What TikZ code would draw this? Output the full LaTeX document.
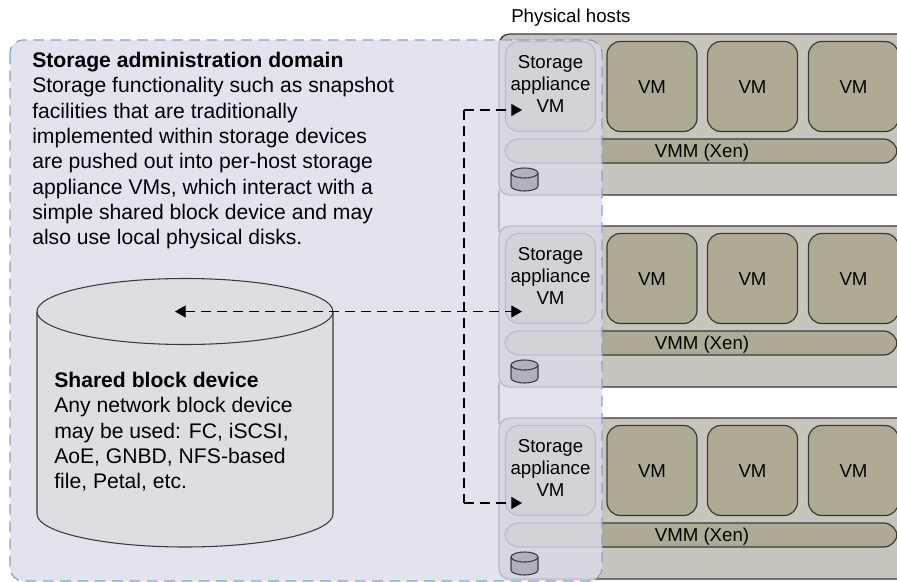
\documentclass[tikz,border=0pt]{standalone}
\usepackage{fontspec}
\setmainfont{Liberation Sans}
\usetikzlibrary{arrows.meta}
\definecolor{hostfill}{HTML}{C9C5BE}
\definecolor{vmfill}{HTML}{AEAA94}
\definecolor{domainfill}{HTML}{DCDCEA}
\definecolor{domainline}{HTML}{8C9CD0}
\definecolor{diskfill}{HTML}{B0B0BE}
\definecolor{bigdiskfill}{HTML}{DEDEE2}
\definecolor{edge}{HTML}{3A3A3A}
\tikzstyle{vm} = [rectangle, draw=edge, fill=vmfill, line width=0.9pt, rounded corners=10pt,
                 inner sep=0pt]
\tikzstyle{label} = [inner sep=0pt, align=center, font=\fontsize{14pt}{16.5pt}\selectfont]
\tikzstyle{blurb} = [anchor=north west, align=left, inner sep=0pt,
                 font=\fontsize{15.85pt}{19pt}\selectfont]
\tikzstyle{link} = [draw=black, line width=0.85pt, dash pattern=on 7.5pt off 4.5pt]
\tikzstyle{tip} = [{Triangle[length=8pt,width=9pt]}-{Triangle[length=8pt,width=9pt]}]
% centre x, top y, bottom y, x radius, y radius
\newcommand{\drum}[6]{
	\draw [edge, fill=#6, line width=0.8pt] ({#1-#4},#2) -- ({#1-#4},#3)
		arc [start angle=180, end angle=0, x radius=#4, y radius=#5] -- ({#1+#4},#2);
	\draw [edge, fill=#6, line width=0.8pt] (#1,#2) ellipse [x radius=#4, y radius=#5];
}
\begin{document}
\begin{tikzpicture}[x=0.75pt,y=-0.75pt]
\useasboundingbox (0,0) rectangle (897,582);

\node [label, anchor=west] (hosts) at (511,18) {Physical hosts};

%hosts
\draw [edge, line width=1pt] (499,190) -- (499,232) (499,382) -- (499,424);
\foreach \n/\y in {1/0, 2/192, 3/384} {
	\begin{scope}[yshift=-0.75*\y pt]
	\fill [hostfill, rounded corners=8pt] (499,34) rectangle (915,195);
	\draw [edge, line width=1pt, rounded corners=8pt] (915,34) -- (499,34) -- (499,195) -- (915,195);
	\node [vm, minimum width=67.5pt, minimum height=67.5pt] (app\n) at (550.5,86.5) {};
	\node [vm, minimum width=67.5pt, minimum height=67.5pt] (vma\n) at (652,86.5) {};
	\node [vm, minimum width=67.5pt, minimum height=67.5pt] (vmb\n) at (752.5,86.5) {};
	\node [vm, minimum width=67.5pt, minimum height=67.5pt] (vmc\n) at (853.5,86.5) {};
	\node [vm, minimum width=294pt, minimum height=18pt] (vmm\n) at (701,151) {};
	\end{scope}
}

%domain lies over the hosts
\fill [domainfill, fill opacity=0.8, rounded corners=10pt] (10,40) rectangle (602,581);
\draw [domainline, line width=0.9pt, dash pattern=on 8pt off 5pt, rounded corners=10pt] (10,40) rectangle (602,581);

%labels
\foreach \n/\y in {1/0, 2/192, 3/384} {
	\begin{scope}[yshift=-0.75*\y pt]
	\node [label] (txt\n) at (550.5,84) {Storage\\appliance\\VM};
	\node [label] (lba\n) at (652,87.5) {VM};
	\node [label] (lbb\n) at (752.5,87.5) {VM};
	\node [label] (lbc\n) at (853.5,87.5) {VM};
	\node [label] (lbm\n) at (702,152.5) {VMM (Xen)};
	\drum{524.5}{173}{186}{13.5}{5}{diskfill}
	\end{scope}
}

\node [blurb] (domain) at (32,52) {\textbf{Storage administration domain}\\
Storage functionality such as snapshot\\
facilities that are traditionally\\
implemented within storage devices\\
are pushed out into per-host storage\\
appliance VMs, which interact with a\\
simple shared block device and may\\
also use local physical disks.};

\drum{185}{311.5}{514}{148}{33}{bigdiskfill}
\node [blurb] (sharedtxt) at (54,372) {\textbf{Shared block device}\\
Any network block device\\
may be used: FC, iSCSI,\\
AoE, GNBD, NFS-based\\
file, Petal, etc.};

%links
\coordinate (from) at (175,311.5);
\coordinate (to2) at (522,311.5);
\coordinate (jointop) at (464,110);
\coordinate (joinbot) at (464,503);
\coordinate (to1) at (522,110);
\coordinate (to3) at (522,503);
\path [link, tip] (from) -- (to2);
\path [link, -{Triangle[length=8pt,width=9pt]}] (jointop) -- (to1);
\path [link, -{Triangle[length=8pt,width=9pt]}] (joinbot) -- (to3);
\path [link] (jointop) -- (joinbot);

\end{tikzpicture}
\end{document}
